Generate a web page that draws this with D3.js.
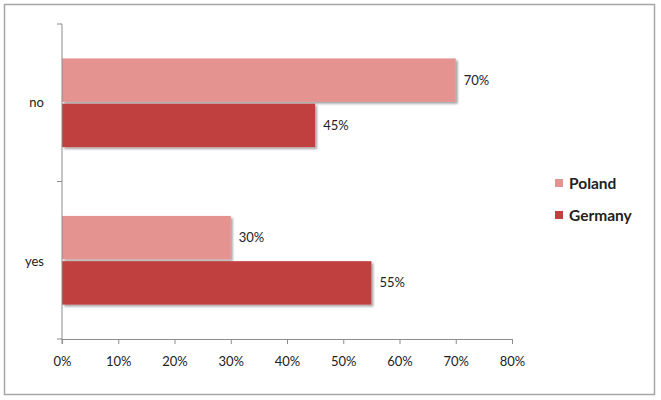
<!DOCTYPE html>
<html><head><meta charset="utf-8">
<script src="https://cdn.jsdelivr.net/npm/d3@7"></script>
<style>body{margin:0;background:#fff;} svg{display:block;font-family:Lato,"Open Sans",sans-serif;}</style>
</head><body>
<svg id="c" width="661" height="400"></svg>
<script>
const categories = ["no", "yes"];
const seriesNames = ["Poland", "Germany"];
const poland = [70, 30];
const germany = [45, 55];
const xTicks = [0, 10, 20, 30, 40, 50, 60, 70, 80];
const colors = ["#E59391", "#C0403F"];

(function () {
const svg = d3.select("#c");
svg.append("rect").attr("x", 4.5).attr("y", 4.5).attr("width", 650).attr("height", 390)
  .attr("fill", "#fff").attr("stroke", "#A6A6A6").attr("stroke-width", 1.5);

const defs = svg.append("defs");
const f = defs.append("filter").attr("id", "sh").attr("x", "-5%").attr("y", "-10%").attr("width", "115%").attr("height", "130%");
f.append("feGaussianBlur").attr("in", "SourceAlpha").attr("stdDeviation", 1.2);
f.append("feOffset").attr("dx", 1.5).attr("dy", 1.5).attr("result", "b");
f.append("feComponentTransfer").append("feFuncA").attr("type", "linear").attr("slope", 0.35);
const m = f.append("feMerge"); m.append("feMergeNode"); m.append("feMergeNode").attr("in", "SourceGraphic");

const pl = 62, pr = 512, pt = 24, pb = 339;
const x = d3.scaleLinear().domain([0, 80]).range([pl, pr]);
const y = d3.scaleBand().domain(categories).range([pt, pb]);
const inner = d3.scaleBand().domain(seriesNames).range([0, y.bandwidth()]).paddingInner(0.04).paddingOuter(0.76);

const data = categories.map((c, i) => ({cat: c, vals: [poland[i], germany[i]]}));
const g = svg.append("g");
data.forEach(d => {
  d.vals.forEach((v, j) => {
    const yy = y(d.cat) + inner(seriesNames[j]);
    g.append("rect").attr("x", x(0)).attr("y", yy).attr("width", x(v) - x(0)).attr("height", inner.bandwidth())
      .attr("fill", colors[j]).attr("filter", "url(#sh)");
    g.append("text").attr("x", x(v) + 8).attr("y", yy + inner.bandwidth() / 2 + 4.5)
      .attr("font-size", 13).attr("fill", "#222").text(v + "%");
  });
});

const xa = svg.append("g").attr("transform", `translate(0,${pb})`)
  .call(d3.axisBottom(x).tickValues(xTicks).tickFormat(d => d + "%").tickSize(5).tickSizeOuter(0));
xa.select(".domain").attr("stroke", "#8C8C8C");
xa.selectAll(".tick line").attr("stroke", "#8C8C8C");
xa.selectAll("text").attr("font-size", 13).attr("fill", "#222").attr("y", 15).attr("dy", "0.9em").style("font-family", "Lato, 'Open Sans', sans-serif");

const ya = svg.append("g").attr("transform", `translate(${pl},0)`);
ya.append("line").attr("x1", 0).attr("x2", 0).attr("y1", pt).attr("y2", pb + 5).attr("stroke", "#8C8C8C");
[pt, pt + y.bandwidth(), pb].forEach(t => ya.append("line").attr("x1", -5).attr("x2", 0).attr("y1", t).attr("y2", t).attr("stroke", "#8C8C8C"));
categories.forEach(c => ya.append("text").attr("x", -18).attr("y", y(c) + y.bandwidth() / 2 + 4.5 + (c === "yes" ? 1 : 0))
  .attr("text-anchor", "end").attr("font-size", 13).attr("fill", "#222").text(c));

const lg = svg.append("g");
seriesNames.forEach((s, i) => {
  const ly = 183 + i * 32;
  lg.append("rect").attr("x", 555).attr("y", ly - 4).attr("width", 8).attr("height", 8).attr("fill", colors[i]);
  lg.append("text").attr("x", 569).attr("y", ly + 5.5).attr("font-size", 15.5).attr("font-weight", "bold").attr("fill", "#222").text(s);
});
})();
</script>
</body></html>
